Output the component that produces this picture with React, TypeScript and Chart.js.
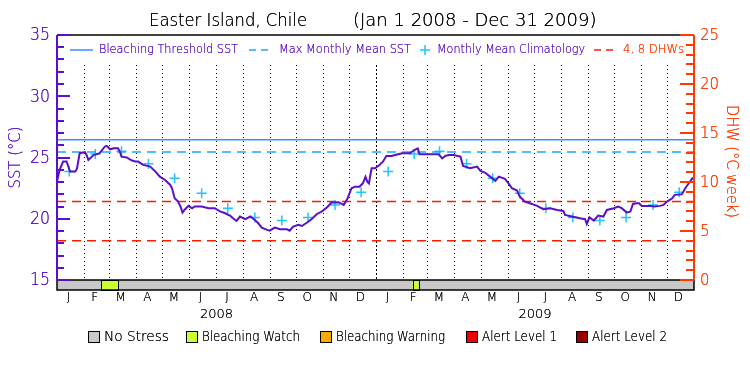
import React, { useEffect, useRef } from "react";
import { Chart, registerables } from "chart.js";
Chart.register(...registerables);

// ---- data ----
const sstDays = [0, 3, 7, 11, 15, 21, 23, 26, 32, 34, 36, 42, 49, 55, 57, 61, 65, 70, 72, 74, 80, 86, 90, 93, 99, 107, 113, 118, 124, 130, 132, 135, 139, 142, 144, 147, 151, 155, 158, 166, 174, 181, 187, 193, 199, 202, 206, 210, 216, 222, 227, 231, 235, 241, 244, 250, 256, 264, 267, 271, 277, 281, 287, 292, 298, 304, 310, 315, 323, 329, 333, 338, 342, 347, 351, 354, 356, 358, 361, 365, 370, 374, 378, 384, 388, 396, 405, 410, 414, 416, 424, 438, 442, 446, 450, 455, 463, 466, 474, 482, 486, 491, 497, 503, 507, 514, 518, 522, 528, 531, 537, 545, 551, 558, 566, 574, 581, 583, 591, 600, 606, 608, 611, 616, 621, 627, 631, 639, 644, 648, 654, 658, 661, 665, 668, 671, 681, 686, 692, 696, 700, 706, 709, 717, 721, 725, 729, 731];
const sstValues = [23.03, 23.99, 24.67, 24.67, 23.85, 23.85, 24.1, 25.35, 25.43, 25.2, 24.8, 25.2, 25.35, 25.9, 25.95, 25.67, 25.76, 25.76, 25.5, 25.07, 25.0, 24.75, 24.67, 24.67, 24.4, 24.26, 23.85, 23.44, 23.17, 22.76, 22.49, 21.67, 21.4, 20.94, 20.5, 20.78, 21.05, 20.86, 21.0, 21.0, 20.86, 20.86, 20.6, 20.45, 20.23, 20.04, 19.82, 20.18, 19.96, 20.18, 19.9, 19.63, 19.28, 19.09, 19.03, 19.28, 19.14, 19.14, 19.03, 19.36, 19.5, 19.41, 19.69, 19.96, 20.37, 20.6, 20.94, 21.32, 21.35, 21.13, 21.59, 22.49, 22.62, 22.62, 22.89, 23.43, 23.03, 22.89, 24.12, 24.12, 24.39, 24.66, 25.12, 25.12, 25.2, 25.34, 25.34, 25.61, 25.75, 25.26, 25.26, 25.26, 24.93, 25.15, 25.2, 25.2, 25.07, 24.31, 24.12, 24.26, 23.9, 23.77, 23.44, 23.09, 23.44, 23.25, 22.9, 22.49, 22.3, 21.81, 21.4, 21.21, 21.05, 20.78, 20.86, 20.72, 20.64, 20.31, 20.18, 20.04, 19.96, 19.58, 20.12, 19.85, 20.26, 20.18, 20.72, 20.86, 21.0, 20.86, 20.5, 20.59, 21.21, 21.27, 21.27, 21.05, 21.05, 21.0, 21.05, 21.13, 21.4, 21.67, 21.95, 21.99, 22.49, 22.9, 23.3, 23.3];
const climatologyValues = [23.85, 25.29, 25.52, 24.5, 23.3, 22.08, 20.86, 20.1, 19.85, 20.1, 21.13, 22.16];
const bleachingThreshold = 26.45;
const maxMonthlyMean = 25.45;
const dhwLevels = [4, 8];
const monthLetters = ["J", "F", "M", "A", "M", "J", "J", "A", "S", "O", "N", "D"];
const yearLabels = ["2008", "2009"];
const monthLengths2008 = [31, 29, 31, 30, 31, 30, 31, 31, 30, 31, 30, 31];
const monthLengths2009 = [31, 28, 31, 30, 31, 30, 31, 31, 30, 31, 30, 31];
const watchStartDays = [51, 408];
const watchEndDays = [71, 415];
const sstTicks = [15, 20, 25, 30, 35];
const dhwTicks = [0, 5, 10, 15, 20, 25];
const stressLegend = ["No Stress", "Bleaching Watch", "Bleaching Warning", "Alert Level 1", "Alert Level 2"];
const stressColors = ["#c8c8c8", "#ccff33", "#ffaa00", "#ee0000", "#990000"];

const PURPLE = "#5a10c8";
const ORANGE = "#ff3a00";
const THRESH = "#3a8fff";
const MMM = "#1aa8ff";
const CLIM = "#22c4ff";
const FONT = '"DejaVu Sans", sans-serif';
const W = "200";

const monthLengths = [...monthLengths2008, ...monthLengths2009];
const boundaries: number[] = [0];
monthLengths.forEach((l) => boundaries.push(boundaries[boundaries.length - 1] + l));
const totalDays = boundaries[boundaries.length - 1];

const climPoints = monthLengths.map((l, i) => ({
  x: boundaries[i] + Math.floor(l / 2) - 1,
  y: climatologyValues[i % 12],
}));

function txt(ctx: CanvasRenderingContext2D, s: string, x: number, y: number, maxW?: number) {
  for (let k = 0; k < 2; k++) {
    if (maxW) ctx.fillText(s, x, y, maxW);
    else ctx.fillText(s, x, y);
  }
}

const decor = {
  id: "decor",
  beforeDatasetsDraw(chart: any) {
    const { ctx, chartArea: a, scales } = chart;
    const x = scales.x;
    ctx.save();
    ctx.strokeStyle = "#000";
    ctx.lineWidth = 1;
    boundaries.forEach((d, i) => {
      if (d <= 0 || d >= totalDays) return;
      ctx.setLineDash(i === 12 ? [2, 2] : [1, 3]);
      const px = Math.round(x.getPixelForValue(d)) + 0.5;
      ctx.beginPath();
      ctx.moveTo(px, a.top + 30);
      ctx.lineTo(px, a.bottom);
      ctx.stroke();
    });
    ctx.restore();
  },
  afterDraw(chart: any) {
    const { ctx, chartArea: a, scales } = chart;
    const x = scales.x, y = scales.y, y1 = scales.y1;
    ctx.save();
    ctx.setLineDash([]);
    // top frame
    ctx.strokeStyle = "#000";
    ctx.lineWidth = 1.5;
    ctx.beginPath();
    ctx.moveTo(a.left, a.top);
    ctx.lineTo(a.right, a.top);
    ctx.stroke();

    // stress bar
    const barTop = a.bottom, barH = 10;
    ctx.fillStyle = stressColors[0];
    ctx.fillRect(a.left, barTop, a.right - a.left, barH);
    watchStartDays.forEach((s, i) => {
      const x0 = x.getPixelForValue(s), x1 = x.getPixelForValue(watchEndDays[i]);
      ctx.fillStyle = stressColors[1];
      ctx.fillRect(x0, barTop, x1 - x0, barH);
      ctx.strokeStyle = "#000";
      ctx.lineWidth = 1;
      ctx.strokeRect(Math.round(x0) + 0.5, barTop + 0.5, Math.round(x1 - x0), barH);
    });
    ctx.strokeStyle = "#000";
    ctx.lineWidth = 1.5;
    ctx.strokeRect(a.left, barTop, a.right - a.left, barH);

    // left axis
    ctx.strokeStyle = PURPLE;
    ctx.lineWidth = 2;
    ctx.beginPath();
    ctx.moveTo(a.left, a.top);
    ctx.lineTo(a.left, a.bottom);
    for (let v = y.min; v <= y.max; v += 1) {
      const py = Math.round(y.getPixelForValue(v));
      const len = v % 5 === 0 ? 13 : 7;
      ctx.moveTo(a.left, py);
      ctx.lineTo(a.left + len, py);
    }
    ctx.stroke();
    ctx.fillStyle = PURPLE;
    ctx.font = `${W} 17px ${FONT}`;
    ctx.textAlign = "right";
    ctx.textBaseline = "middle";
    sstTicks.forEach((v) => txt(ctx, String(v), a.left - 7, y.getPixelForValue(v) + 1, 20));
    ctx.save();
    ctx.translate(16, (a.top + a.bottom) / 2);
    ctx.rotate(-Math.PI / 2);
    ctx.textAlign = "center";
    ctx.font = `${W} 16px ${FONT}`;
    txt(ctx, "SST (°C)", 0, 0, 62);
    ctx.restore();

    // right axis
    ctx.strokeStyle = ORANGE;
    ctx.lineWidth = 2;
    ctx.beginPath();
    ctx.moveTo(a.right, a.top);
    ctx.lineTo(a.right, a.bottom);
    for (let v = y1.min; v <= y1.max; v += 1) {
      const py = Math.round(y1.getPixelForValue(v));
      const len = v % 5 === 0 ? 14 : 8;
      ctx.moveTo(a.right, py);
      ctx.lineTo(a.right - len, py);
    }
    ctx.stroke();
    ctx.fillStyle = ORANGE;
    ctx.font = `${W} 15px ${FONT}`;
    ctx.textAlign = "left";
    dhwTicks.forEach((v) => txt(ctx, String(v), a.right + 6, y1.getPixelForValue(v) + 1, 19));
    ctx.save();
    ctx.translate(731, (a.top + a.bottom) / 2 + 4);
    ctx.rotate(Math.PI / 2);
    ctx.textAlign = "center";
    ctx.font = `${W} 15px ${FONT}`;
    txt(ctx, "DHW (°C week)", 0, 0, 113);
    ctx.restore();

    // month & year labels
    ctx.fillStyle = "#000";
    ctx.textAlign = "center";
    ctx.font = `${W} 12px ${FONT}`;
    monthLengths.forEach((l, i) => {
      const px = x.getPixelForValue(boundaries[i] + l / 2) - 2;
      txt(ctx, monthLetters[i % 12], px, 298);
    });
    ctx.font = `${W} 13px ${FONT}`;
    yearLabels.forEach((yl, i) => {
      const px = x.getPixelForValue(boundaries[i * 12] + (boundaries[i * 12 + 12] - boundaries[i * 12]) / 2);
      txt(ctx, yl, px, 315);
    });

    // title
    ctx.font = `${W} 18px ${FONT}`;
    ctx.textAlign = "left";
    txt(ctx, "Easter Island, Chile", 149, 21, 158);
    txt(ctx, "(Jan 1 2008 - Dec 31 2009)", 353, 21, 255);

    // top legend
    const ly = 50;
    ctx.font = `${W} 13px ${FONT}`;
    ctx.lineWidth = 1.5;
    ctx.strokeStyle = THRESH;
    ctx.beginPath(); ctx.moveTo(70, ly); ctx.lineTo(93, ly); ctx.stroke();
    ctx.fillStyle = PURPLE;
    txt(ctx, "Bleaching Threshold SST", 99, ly, 139);
    ctx.strokeStyle = MMM;
    ctx.setLineDash([7, 5]);
    ctx.beginPath(); ctx.moveTo(249, ly); ctx.lineTo(273, ly); ctx.stroke();
    ctx.setLineDash([]);
    txt(ctx, "Max Monthly Mean SST", 279, ly, 132);
    ctx.strokeStyle = CLIM;
    ctx.beginPath(); ctx.moveTo(420, ly); ctx.lineTo(430, ly); ctx.moveTo(425, ly - 5); ctx.lineTo(425, ly + 5); ctx.stroke();
    txt(ctx, "Monthly Mean Climatology", 437, ly, 148);
    ctx.strokeStyle = "#ff1a00";
    ctx.setLineDash([7, 5]);
    ctx.beginPath(); ctx.moveTo(594, ly); ctx.lineTo(617, ly); ctx.stroke();
    ctx.setLineDash([]);
    ctx.fillStyle = ORANGE;
    txt(ctx, "4, 8 DHWs", 623, ly, 61);

    // bottom legend
    const boxX = [88, 186, 320, 466, 576];
    const textW = [65, 98, 109, 75, 75];
    ctx.font = `${W} 14px ${FONT}`;
    stressLegend.forEach((s, i) => {
      ctx.fillStyle = stressColors[i];
      ctx.fillRect(boxX[i], 331, 11, 11);
      ctx.strokeStyle = "#000";
      ctx.lineWidth = 1;
      ctx.strokeRect(boxX[i] + 0.5, 331.5, 11, 11);
      ctx.fillStyle = "#000";
      txt(ctx, s, boxX[i] + 16, 337, textW[i]);
    });
    ctx.restore();
  },
};

export default function App() {
  const ref = useRef<HTMLCanvasElement>(null);
  useEffect(() => {
    if (!ref.current) return;
    const chart = new Chart(ref.current, {
      type: "line",
      data: {
        datasets: [
          {
            label: "SST",
            data: sstDays.map((d, i) => ({ x: d, y: sstValues[i] })),
            borderColor: PURPLE,
            borderWidth: 2,
            pointRadius: 0,
            yAxisID: "y",
          },
          {
            label: "Bleaching Threshold SST",
            data: [{ x: 0, y: bleachingThreshold }, { x: totalDays, y: bleachingThreshold }],
            borderColor: THRESH,
            borderWidth: 1.5,
            pointRadius: 0,
            yAxisID: "y",
          },
          {
            label: "Max Monthly Mean SST",
            data: [{ x: 0, y: maxMonthlyMean }, { x: totalDays, y: maxMonthlyMean }],
            borderColor: MMM,
            borderWidth: 1.5,
            borderDash: [9, 6],
            pointRadius: 0,
            yAxisID: "y",
          },
          {
            label: "Monthly Mean Climatology",
            data: climPoints,
            showLine: false,
            pointStyle: "cross",
            pointRadius: 5,
            pointBorderWidth: 1.5,
            borderColor: CLIM,
            backgroundColor: CLIM,
            yAxisID: "y",
          },
          ...dhwLevels.map((lv) => ({
            label: `${lv} DHW`,
            data: [{ x: 0, y: lv }, { x: totalDays, y: lv }],
            borderColor: "#ff1a00",
            borderWidth: 1.5,
            borderDash: [9, 6],
            pointRadius: 0,
            yAxisID: "y1",
          })),
        ],
      },
      options: {
        responsive: false,
        animation: false,
        layout: { padding: { left: 57, right: 56, top: 35, bottom: 95 } },
        scales: {
          x: { type: "linear", min: 0, max: totalDays, display: false },
          y: { type: "linear", min: 15, max: 35, display: false },
          y1: { type: "linear", min: 0, max: 25, display: false, position: "right" },
        },
        plugins: { legend: { display: false }, tooltip: { enabled: false } },
      },
      plugins: [decor],
    } as any);
    return () => chart.destroy();
  }, []);
  return (
    <div style={{ position: "absolute", left: 0, top: 0, width: 750, height: 375, background: "#fff" }}>
      <canvas ref={ref} width={750} height={375} />
    </div>
  );
}
